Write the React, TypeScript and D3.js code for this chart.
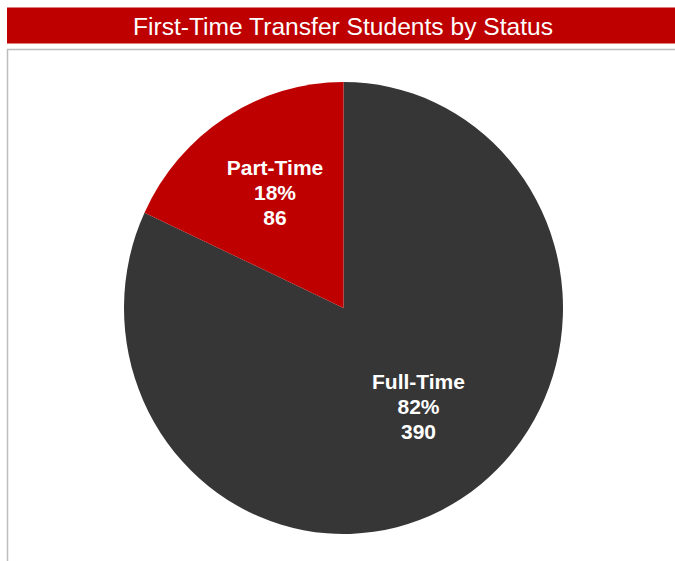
import React from "react";
import * as d3 from "d3";

const categories = ["Full-Time", "Part-Time"];
const counts = [390, 86];
const percentLabels = ["82%", "18%"];
const colors = ["#363636", "#BE0000"];
const title = "First-Time Transfer Students by Status";

const W = 675;
const H = 561;
const cx = 343.5;
const cy = 308;
const rx = 219.5;
const ry = 226;

export default function App() {
  const pie = d3.pie<number>().sort(null).value((d) => d)(counts);
  const arc = d3.arc<d3.PieArcDatum<number>>().innerRadius(0).outerRadius(rx);
  const labelPos = [
    [418.5, 389],
    [275, 175],
  ];
  return (
    <svg
      width={W}
      height={H}
      style={{ position: "absolute", left: 0, top: 0, fontFamily: "'Liberation Sans', Arial, sans-serif" }}
    >
      <rect x={0} y={0} width={W} height={H} fill="#fff" />
      <rect x={7} y={7.5} width={W - 7} height={36} fill="#BE0000" />
      <text x={343} y={35} textAnchor="middle" fill="#fff" fontSize={24.6}>
        {title}
      </text>
      <line x1={7} y1={49.5} x2={W} y2={49.5} stroke="#BDBDBD" strokeWidth={1.5} />
      <line x1={7.5} y1={49} x2={7.5} y2={H} stroke="#BDBDBD" strokeWidth={1.5} />
      <g transform={`translate(${cx},${cy}) scale(1,${ry / rx})`}>
        {pie.map((p, i) => (
          <path key={categories[i]} d={arc(p) || ""} fill={colors[i]} />
        ))}
      </g>
      {pie.map((p, i) => {
        const [x, y] = labelPos[i];
        return (
          <text key={categories[i]} x={x} y={y} textAnchor="middle" fill="#fff" fontWeight="bold" fontSize={21}>
            <tspan x={x} dy={0}>{categories[i]}</tspan>
            <tspan x={x} dy={25}>{percentLabels[i]}</tspan>
            <tspan x={x} dy={25}>{counts[i]}</tspan>
          </text>
        );
      })}
    </svg>
  );
}
